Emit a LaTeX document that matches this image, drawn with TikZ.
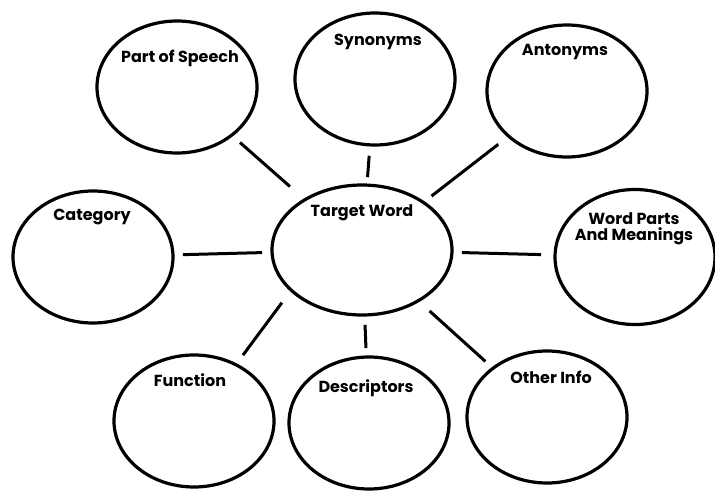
\documentclass[tikz,border=0pt]{standalone}
\usepackage{fontspec}
\setmainfont{Poppins}
\usetikzlibrary{shapes.geometric}

\begin{document}
\begin{tikzpicture}[x=1pt,y=-1pt,
	bubble/.style={draw,ellipse,line width=3.2pt,inner sep=0pt,minimum width=160pt,minimum height=132pt},
	tag/.style={font=\fontsize{16}{16}\selectfont\bfseries,align=center,inner sep=1pt},
	link/.style={line width=3pt}]
\useasboundingbox[fill=white] (0,0) rectangle (715,498);

% the word in the middle
\node[bubble,minimum width=180pt,minimum height=130pt] (target) at (362,250) {};
\node[tag] (targetT) at (362,213) {Target Word};

% top row
\node[bubble] (pos) at (177,87) {};
\node[tag] (posT) at (180,58) {Part of Speech};
\node[bubble] (syn) at (375,79) {};
\node[tag] (synT) at (378,42) {Synonyms};
\node[bubble] (ant) at (567,91) {};
\node[tag] (antT) at (565,52) {Antonyms};

% middle row
\node[bubble] (cat) at (93,257) {};
\node[tag] (catT) at (92,217) {Category};
\node[bubble,minimum height=135pt] (wp) at (635,257) {};
\node[tag] (wpT) at (634,229) {Word Parts\\And Meanings};

% bottom row
\node[bubble] (fun) at (194,421) {};
\node[tag] (funT) at (190,380) {Function};
\node[bubble] (desc) at (369,423) {};
\node[tag] (descT) at (366,388) {Descriptors};
\node[bubble] (oth) at (547,417) {};
\node[tag] (othT) at (551,377) {Other Info};

% spokes
\draw[link,shorten <=84pt,shorten >=96pt] (pos.center) -- (target.center);
\draw[link,shorten <=77pt,shorten >=73pt] (syn.center) -- (target.center);
\draw[link,shorten <=87pt,shorten >=88pt] (ant.center) -- (target.center);
\draw[link,shorten <=90pt,shorten >=100pt] (cat.center) -- (target.center);
\draw[link,shorten <=100pt,shorten >=94pt] (target.center) -- (wp.center);
\draw[link,shorten <=82pt,shorten >=14pt] (fun.center) -- (target.210);
\draw[link,shorten <=75pt,shorten >=75pt] (desc.center) -- (target.center);
\draw[link,shorten <=91pt,shorten >=83pt] (target.center) -- (oth.center);
\end{tikzpicture}
\end{document}
